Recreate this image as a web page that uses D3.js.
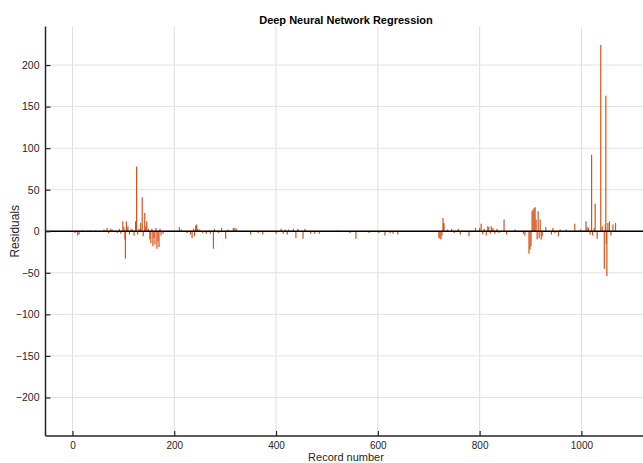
<!DOCTYPE html>
<html><head><meta charset="utf-8">
<script src="https://cdn.jsdelivr.net/npm/d3@7"></script>
<style>body{margin:0;background:#fff}svg{display:block}text{font-family:"Liberation Sans",Arial,sans-serif}</style>
</head><body><svg id="c" width="643" height="463"></svg>
<script>
const title = "Deep Neural Network Regression";
const xLabel = "Record number";
const yLabel = "Residuals";
const xTicks = [0, 200, 400, 600, 800, 1000];
const yTicks = [-200, -150, -100, -50, 0, 50, 100, 150, 200];
const xDomain = [-53, 1121];
const yDomain = [-246.4, 246.4];
const records = [5,10,13,20,28,35,45,55,62,68,71,75,78,84,88,92,95,99,101,103,104,106,107,109,112,115,118,121,124,126,128,131,134,137,139,142,144,146,149,152,154,156,158,160,162,164,166,168,170,172,174,178,185,192,200,210,214,225,232,235,238,240,242,244,246,250,256,263,268,271,277,279,287,293,301,306,316,319,322,335,350,365,374,400,404,410,414,418,422,425,430,434,439,443,453,457,468,476,485,520,545,557,583,602,614,624,630,639,669,689,720,722,724,726,728,729,730,737,745,750,758,762,779,792,800,803,806,809,813,816,818,821,823,826,830,834,838,848,853,870,886,889,897,899,901,903,905,907,909,911,913,915,917,919,921,923,930,941,944,948,955,958,970,978,987,998,1004,1009,1011,1014,1017,1020,1022,1025,1027,1031,1038,1041,1045,1047,1048,1049,1050,1052,1055,1058,1062,1067];
const residuals = [-2,-5,-4,1,-1,1,1,-1,2,4,-2,3,2,1,-2,3,-3,12,5,-10,-33,12,4,6,-4,3,2,-5,12,78,-4,3,10,41,-6,22,6,12,3,-10,-14,3,-18,-8,-16,4,-21,-12,-19,3,-5,-3,-1,-1,1,5,2,-2,-4,-8,3,-6,7,8,3,2,-2,-3,1,-3,-21,3,-2,4,-9,2,4,4,3,1,-4,-2,-4,-3,-1,3,-3,2,-4,2,-1,3,-8,3,-9,3,-3,-3,-3,1,-2,-9,-2,-2,-5,-2,-3,-4,-1,-1,-8,-9,-10,-5,16,8,10,2,3,-2,3,-4,-6,4,4,9,-4,3,-5,6,5,-3,6,4,-3,3,-2,14,-4,2,-3,-5,-27,-22,-18,24,26,28,29,14,-10,24,-8,14,-10,-6,5,-4,4,-2,-6,2,2,-1,9,2,-1,12,5,4,-4,92,-5,4,33,-9,224,6,-45,8,163,-15,-54,10,12,-5,8,10];

const svg = d3.select("#c");
const L = 45.5, R = 643, T = 26.5, B = 436;
const x = d3.scaleLinear().domain(xDomain).range([L, R]);
const y = d3.scaleLinear().domain(yDomain).range([B, T]);
const ink = "#262626";

// grid
svg.append("g").selectAll("line").data(xTicks).join("line")
  .attr("x1", d => x(d)).attr("x2", d => x(d)).attr("y1", T).attr("y2", B)
  .attr("stroke", "#dedede").attr("stroke-width", 1);
svg.append("g").selectAll("line").data(yTicks).join("line")
  .attr("x1", L).attr("x2", R).attr("y1", d => y(d)).attr("y2", d => y(d))
  .attr("stroke", "#e2e2e2").attr("stroke-width", 1);

// bars
svg.append("g").selectAll("line").data(records.map((r, i) => [r, residuals[i]])).join("line")
  .attr("x1", d => x(d[0])).attr("x2", d => x(d[0]))
  .attr("y1", y(0)).attr("y2", d => y(d[1]))
  .attr("stroke", "#D95319").attr("stroke-width", 1.2);

// zero line
svg.append("line").attr("x1", L).attr("x2", R).attr("y1", y(0)).attr("y2", y(0))
  .attr("stroke", "#000").attr("stroke-width", 1.5);

// axes
const xAxis = d3.axisBottom(x).tickValues(xTicks).tickSize(-5).tickPadding(6).tickFormat(d3.format("d"));
const gx = svg.append("g").attr("transform", `translate(0,${B})`).call(xAxis);
const yAxis = d3.axisLeft(y).tickValues(yTicks).tickSize(-5).tickPadding(6).tickFormat(d3.format("d"));
const gy = svg.append("g").attr("transform", `translate(${L},0)`).call(yAxis);
[gx, gy].forEach(g => {
  g.select(".domain").attr("stroke", ink).attr("stroke-width", 1.5);
  g.selectAll(".tick line").attr("stroke", ink).attr("stroke-width", 1.2);
  g.selectAll(".tick text").attr("fill", ink).style("font-size", "10.5px").style("font-family", "'Liberation Sans',Arial,sans-serif");
});
gx.selectAll(".tick text").attr("dy", null).attr("y", 12.5).style("font-size", "10px");
gy.select(".domain").attr("d", `M0,${T}V${B}`);
gx.select(".domain").attr("d", `M${L},0H${R}`);

svg.append("text").attr("x", 346).attr("y", 23.5).attr("text-anchor", "middle")
  .style("font-size", "11px").style("font-weight", "bold").attr("fill", "#000").text(title);
svg.append("text").attr("x", 346).attr("y", 460.7).attr("text-anchor", "middle")
  .style("font-size", "11px").attr("fill", ink).text(xLabel);
svg.append("text").attr("transform", `translate(19,${y(0)}) rotate(-90)`).attr("text-anchor", "middle")
  .style("font-size", "12px").attr("fill", ink).text(yLabel);
</script></body></html>
